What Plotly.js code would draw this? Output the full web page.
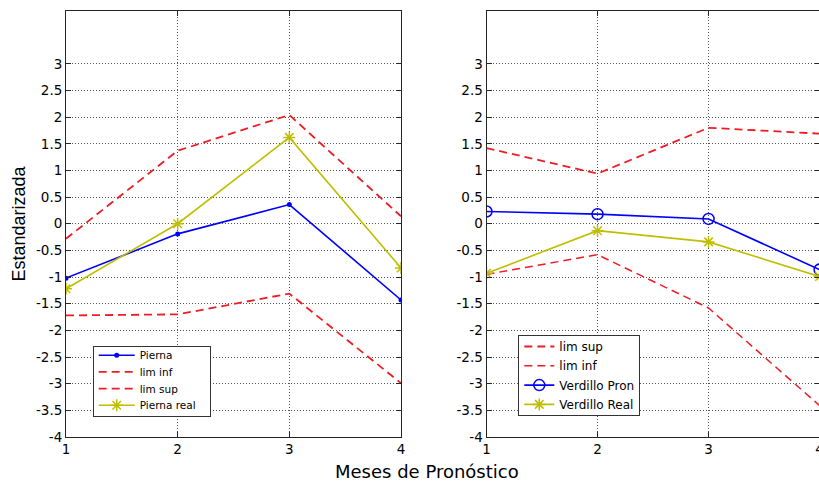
<!DOCTYPE html>
<html>
<head>
<meta charset="utf-8">
<script src="https://cdn.plot.ly/plotly-3.0.1.min.js"></script>
<style>
  html, body { margin: 0; padding: 0; background: #fff; overflow: hidden; }
  #chart { width: 822px; height: 484px; }
</style>
</head>
<body>
<div id="chart"></div>
<script>
// Forecast months
const meses = [1, 2, 3, 4];

// Pierna: forecast, observed and confidence limits (standardized)
const piernaPron   = [-1.02, -0.19, 0.36, -1.43];
const piernaLimInf = [-1.72, -1.70, -1.31, -2.99];
const piernaLimSup = [-0.28, 1.37, 2.04, 0.14];
const piernaReal   = [-1.22, 0.00, 1.62, -0.83];

// Verdillo: forecast, observed and confidence limits (standardized)
const verdilloLimSup = [1.42, 0.94, 1.80, 1.69];
const verdilloLimInf = [-0.95, -0.58, -1.58, -3.41];
const verdilloPron   = [0.23, 0.18, 0.09, -0.86];
const verdilloReal   = [-0.93, -0.13, -0.34, -0.99];

// Axis ticks
const xTicks = [1, 2, 3, 4];
const yTicks = [-4, -3.5, -3, -2.5, -2, -1.5, -1, -0.5, 0, 0.5, 1, 1.5, 2, 2.5, 3];

const BLUE = '#0000ff';
const RED = '#ee1c25';
const OLIVE = '#bfbf00';
const DASH = '8px,5px';
const FONT = 'DejaVu Sans, sans-serif';

const W = 822, H = 484;
const px = v => v / W;
const py = v => 1 - v / H;

const traces = [
  // left panel
  { x: meses, y: piernaPron, name: 'Pierna', mode: 'lines+markers', xaxis: 'x', yaxis: 'y', legend: 'legend',
    line: { color: BLUE, width: 1.6 }, marker: { symbol: 'circle', size: 5, color: BLUE } },
  { x: meses, y: piernaLimInf, name: 'lim inf', mode: 'lines', xaxis: 'x', yaxis: 'y', legend: 'legend',
    line: { color: RED, width: 1.8, dash: DASH } },
  { x: meses, y: piernaLimSup, name: 'lim sup', mode: 'lines', xaxis: 'x', yaxis: 'y', legend: 'legend',
    line: { color: RED, width: 1.8, dash: DASH } },
  { x: meses, y: piernaReal, name: 'Pierna real', mode: 'lines+markers', xaxis: 'x', yaxis: 'y', legend: 'legend',
    line: { color: OLIVE, width: 1.6 }, marker: { symbol: 'asterisk-open', size: 10, color: OLIVE, line: { color: OLIVE, width: 1.5 } } },
  // right panel
  { x: meses, y: verdilloLimSup, name: 'lim sup', mode: 'lines', xaxis: 'x2', yaxis: 'y2', legend: 'legend2',
    line: { color: RED, width: 1.8, dash: DASH } },
  { x: meses, y: verdilloLimInf, name: 'lim inf', mode: 'lines', xaxis: 'x2', yaxis: 'y2', legend: 'legend2',
    line: { color: RED, width: 1.5, dash: DASH } },
  { x: meses, y: verdilloPron, name: 'Verdillo Pron', mode: 'lines+markers', xaxis: 'x2', yaxis: 'y2', legend: 'legend2',
    line: { color: BLUE, width: 1.6 }, marker: { symbol: 'circle-open', size: 11, color: BLUE, line: { color: BLUE, width: 1.5 } } },
  { x: meses, y: verdilloReal, name: 'Verdillo Real', mode: 'lines+markers', xaxis: 'x2', yaxis: 'y2', legend: 'legend2',
    line: { color: OLIVE, width: 1.6 }, marker: { symbol: 'asterisk-open', size: 10, color: OLIVE, line: { color: OLIVE, width: 1.5 } } }
];

const tickFont = { family: FONT, size: 13.5, color: '#000' };

function xAxis(domain, range) {
  return {
    domain: domain, range: range, tickvals: xTicks, ticktext: xTicks.map(String),
    showgrid: true, gridcolor: '#555', griddash: '1px,2px', gridwidth: 1,
    zeroline: false, showline: true, linecolor: '#262626', linewidth: 1, mirror: 'ticks',
    ticks: 'inside', ticklen: 5, tickcolor: '#262626', tickfont: tickFont,
    ticklabeloverflow: 'allow', fixedrange: true
  };
}
function yAxis(anchor) {
  return {
    domain: [py(437), py(10.5)], range: [-4, 4], anchor: anchor,
    tickvals: yTicks, ticktext: yTicks.map(String),
    showgrid: true, gridcolor: '#555', griddash: '1px,2px', gridwidth: 1,
    zeroline: false, showline: true, linecolor: '#262626', linewidth: 1, mirror: 'ticks',
    ticks: 'inside', ticklen: 5, tickcolor: '#262626', tickfont: tickFont, fixedrange: true
  };
}

const legendStyle = {
  bgcolor: '#ffffff', bordercolor: '#333', borderwidth: 1,
  xanchor: 'left', yanchor: 'top', tracegroupgap: 0
};

const layout = {
  width: W, height: H,
  margin: { l: 0, r: 0, t: 0, b: 0 },
  paper_bgcolor: '#fff', plot_bgcolor: '#fff',
  showlegend: true,
  xaxis: Object.assign(xAxis([px(66), px(401)], [1, 4]), { anchor: 'y' }),
  yaxis: yAxis('x'),
  xaxis2: Object.assign(xAxis([px(486.5), px(820)], [1, 4.004]), { anchor: 'y2' }),
  yaxis2: yAxis('x2'),
  legend: Object.assign({}, legendStyle, { x: px(92.7), y: py(345.7), itemwidth: 36,
    font: { family: FONT, size: 10.5, color: '#000' } }),
  legend2: Object.assign({}, legendStyle, { x: px(518.3), y: py(335), itemwidth: 30,
    font: { family: FONT, size: 12, color: '#000' } }),
  annotations: [
    { text: 'Estandarizada', xref: 'paper', yref: 'paper', x: px(18), y: py(223.5),
      textangle: -90, showarrow: false, xanchor: 'center', yanchor: 'middle',
      font: { family: 'Liberation Sans, Arial, sans-serif', size: 18, color: '#000' } },
    { text: 'Meses de Pronóstico', xref: 'paper', yref: 'paper', x: px(427), y: py(471),
      showarrow: false, xanchor: 'center', yanchor: 'middle',
      font: { family: FONT, size: 18, color: '#000' } }
  ]
};

// Tighten the rows of a legend box: first row offset, row pitch and box size in px
function packLegend(gd, cls, firstY, pitch, boxWidth, boxHeight) {
  const leg = gd.querySelector('g.' + cls);
  if (!leg) return;
  const rows = leg.querySelectorAll('g.traces');
  rows.forEach((row, i) => {
    const m = /translate\(\s*([-\d.]+)[ ,]+([-\d.]+)\s*\)/.exec(row.getAttribute('transform') || '');
    const x = m ? parseFloat(m[1]) : 0;
    row.setAttribute('transform', 'translate(' + x + ',' + (firstY + i * pitch) + ')');
  });
  const bg = leg.querySelector('rect.bg');
  if (bg) {
    if (boxWidth) bg.setAttribute('width', boxWidth);
    bg.setAttribute('height', boxHeight);
  }
}

Plotly.newPlot('chart', traces, layout, { displayModeBar: false, staticPlot: true }).then(gd => {
  packLegend(gd, 'legend', 9.5, 16.7, 117, 70);
  packLegend(gd, 'legend2', 11.5, 19.3, null, 80);
});
</script>
</body>
</html>
